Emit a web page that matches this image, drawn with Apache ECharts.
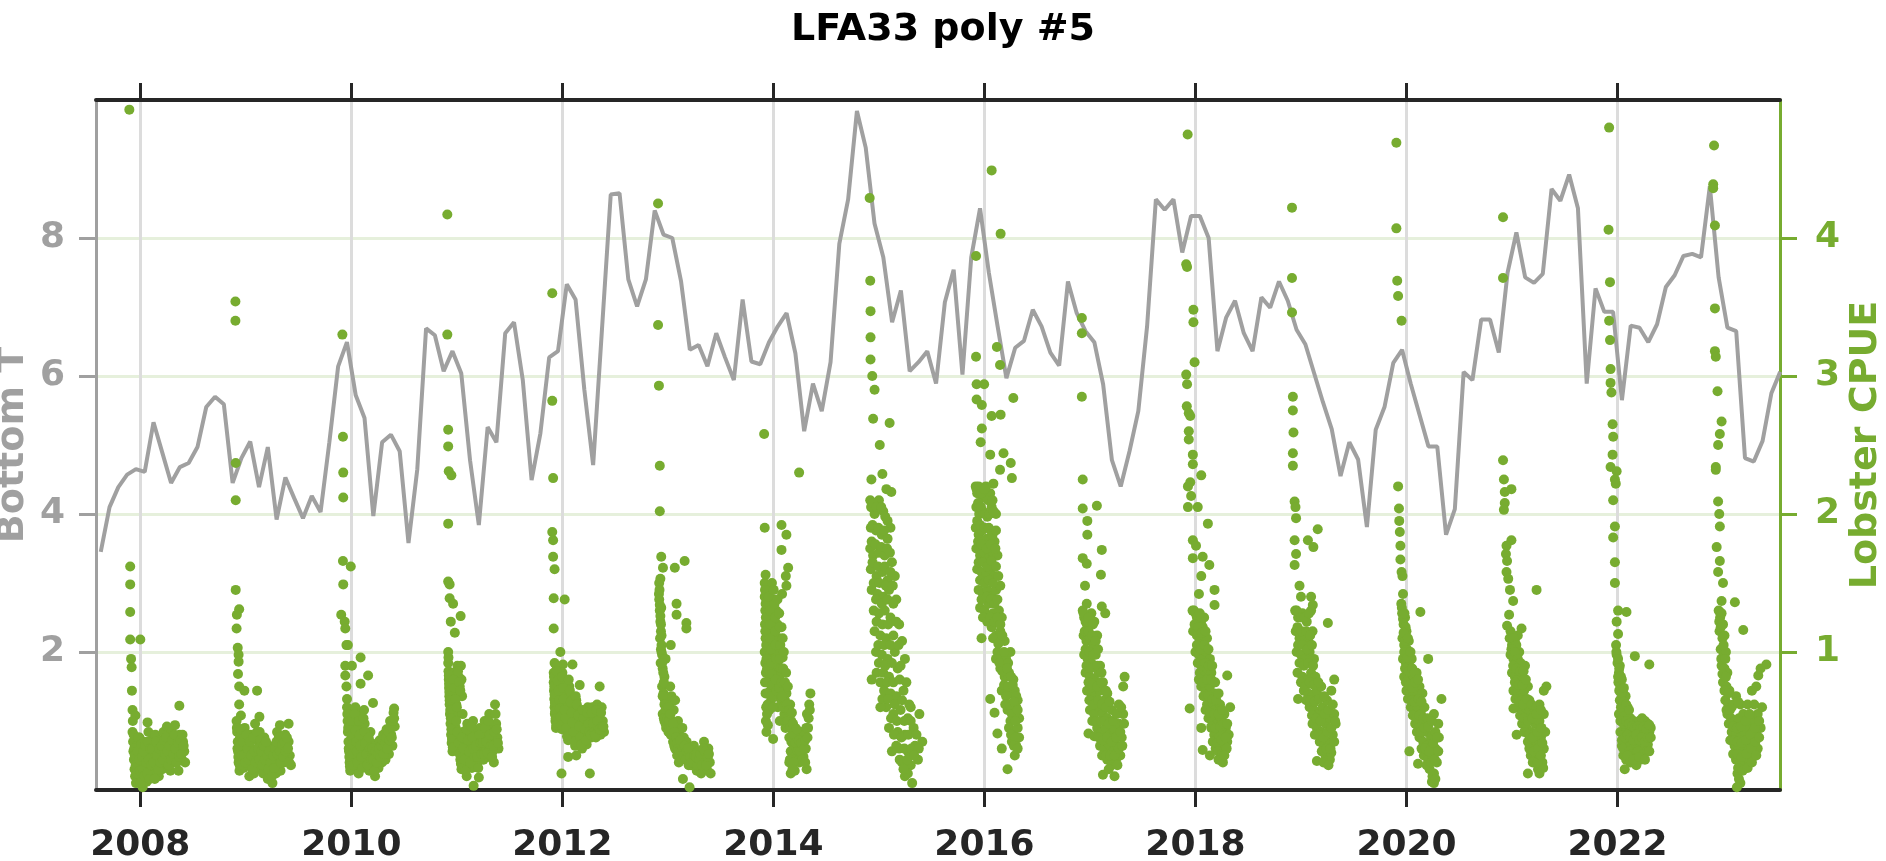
<!DOCTYPE html>
<html>
<head>
<meta charset="utf-8">
<title>LFA33 poly #5</title>
<script src="https://cdn.jsdelivr.net/npm/echarts@6/dist/echarts.min.js"></script>
<style>
  html, body { margin: 0; padding: 0; background: #ffffff; }
  #chart { width: 1886px; height: 861px; }
</style>
</head>
<body>
<div id="chart"></div>
<script>
// Monthly bottom temperature, first value is August 2007 (mid-month)
const firstMonth = 2007 + 7.5 / 12;
const bottomT = [
  3.45, 4.10, 4.39, 4.57, 4.65, 4.61, 5.33, 4.89, 4.45, 4.68, 4.74, 4.97,
  5.55, 5.70, 5.59, 4.45, 4.81, 5.05, 4.39, 4.97, 3.92, 4.53, 4.23, 3.94,
  4.26, 4.03, 5.04, 6.14, 6.49, 5.72, 5.39, 3.97, 5.04, 5.15, 4.91, 3.58,
  4.65, 6.69, 6.59, 6.07, 6.36, 6.04, 4.78, 3.84, 5.26, 5.04, 6.62, 6.78,
  5.94, 4.49, 5.17, 6.27, 6.36, 7.33, 7.11, 5.80, 4.71, 6.67, 8.63, 8.65,
  7.40, 7.01, 7.40, 8.40, 8.05, 8.00, 7.37, 6.38, 6.45, 6.14, 6.62, 6.27,
  5.94, 7.11, 6.21, 6.17, 6.49, 6.72, 6.91, 6.33, 5.20, 5.89, 5.49, 6.20,
  7.92, 8.56, 9.84, 9.31, 8.21, 7.72, 6.78, 7.24, 6.07, 6.20, 6.36, 5.89,
  7.07, 7.54, 6.02, 7.72, 8.43, 7.50, 6.72, 5.97, 6.41, 6.51, 6.96, 6.72,
  6.34, 6.15, 7.37, 6.91, 6.65, 6.49, 5.88, 4.78, 4.40, 4.91, 5.49, 6.72,
  8.56, 8.41, 8.56, 7.79, 8.32, 8.32, 8.00, 6.36, 6.85, 7.09, 6.62, 6.36,
  7.14, 6.99, 7.37, 7.09, 6.67, 6.46, 6.04, 5.62, 5.23, 4.55, 5.04, 4.79,
  3.81, 5.22, 5.55, 6.19, 6.38, 5.88, 5.43, 4.98, 4.98, 3.70, 4.07, 6.06,
  5.94, 6.82, 6.82, 6.34, 7.50, 8.08, 7.43, 7.35, 7.48, 8.71, 8.54, 8.92,
  8.43, 5.89, 7.27, 6.93, 6.93, 5.65, 6.73, 6.70, 6.49, 6.75, 7.29, 7.46,
  7.74, 7.77, 7.72, 8.75, 7.43, 6.70, 6.65, 4.81, 4.76, 5.06, 5.75, 6.06
];

// Lobster CPUE per fishing season: [days from 1 January of the season year, CPUE]
const cpue2008 = [[-38,4.93],[-35,1.62],[-35,1.49],[-35,1.29],[-35,1.09],[0,1.09],[-32,0.95],[-30,0.89],[-29,0.72],[-27,0.58],[-17,0.54],[25,0.49],[135,0.61],
  [-27,0.42],[-25,0.35],[-24,0.28],[-22,0.22],[-20,0.15],[-18,0.10],[-15,0.05],[-12,0.32],[-10,0.2],[-6,0.12],[-3,0.38],[0,0.28],[2,0.18],[5,0.08],[8,0.02],[12,0.35],[15,0.25],[18,0.15],[22,0.06],[28,0.42],[30,0.3],[33,0.2],[36,0.1],[40,0.36],[44,0.26],[48,0.14],[52,0.4],[56,0.3],[60,0.2],[64,0.1],[68,0.36],[72,0.25],[76,0.15],[80,0.42],[84,0.3],[88,0.2],[92,0.46],[96,0.36],[100,0.24],[104,0.14],[108,0.42],[112,0.3],[116,0.2],[120,0.47],[124,0.36],[128,0.25],[132,0.14],[136,0.4],[140,0.3],[144,0.22],[148,0.35],[152,0.28],[155,0.2],
  [-26,0.5],[-23,0.4],[-21,0.3],[-19,0.25],[-16,0.18],[-13,0.12],[-9,0.28],[-7,0.38],[-4,0.22],[-1,0.14],[1,0.05],[3,0.33],[6,0.24],[9,0.15],[11,0.28],[14,0.1],[17,0.32],[20,0.2],[24,0.12],[26,0.35],[29,0.22],[32,0.08],[35,0.3],[38,0.18],[42,0.3],[46,0.2],[50,0.08],[54,0.35],[58,0.25],[62,0.15],[66,0.3],[70,0.2],[74,0.32],[78,0.22],[82,0.36],[86,0.26],[90,0.38],[94,0.28],[98,0.18],[102,0.32],[106,0.22],[110,0.36],[114,0.26],[118,0.4],[122,0.3],[126,0.2],[130,0.34],[134,0.24],[138,0.36],[142,0.26],[146,0.4],[150,0.32]];
const cpue2009 = [[-36,3.54],[-36,3.40],[-35,2.37],[-35,2.10],[-35,1.45],[-23,1.31],[-31,1.27],[-32,1.17],[-28,1.03],[-25,0.98],[-25,0.93],[-27,0.84],[-23,0.75],[-5,0.72],[39,0.72],[-23,0.62],[-17,0.54],[47,0.53],[118,0.47],[148,0.48],
  [-32,0.5],[-30,0.42],[-28,0.35],[-27,0.28],[-25,0.2],[-22,0.14],[-20,0.38],[-16,0.3],[-12,0.22],[-8,0.16],[-4,0.45],[0,0.35],[4,0.26],[8,0.18],[12,0.1],[16,0.4],[20,0.3],[24,0.2],[28,0.12],[32,0.48],[36,0.36],[40,0.26],[44,0.16],[48,0.42],[52,0.32],[56,0.22],[60,0.12],[64,0.38],[68,0.28],[72,0.18],[76,0.08],[80,0.32],[84,0.24],[88,0.14],[92,0.05],[96,0.3],[100,0.2],[104,0.12],[108,0.42],[112,0.32],[116,0.22],[120,0.14],[124,0.38],[128,0.28],[132,0.2],[136,0.4],[140,0.3],[144,0.22],[148,0.35],[152,0.25],[156,0.18],
  [-31,0.45],[-29,0.3],[-26,0.24],[-23,0.32],[-21,0.18],[-18,0.44],[-14,0.25],[-10,0.35],[-6,0.25],[-2,0.2],[2,0.4],[6,0.3],[10,0.22],[14,0.35],[18,0.25],[22,0.15],[26,0.38],[30,0.28],[34,0.2],[38,0.42],[42,0.3],[46,0.22],[50,0.36],[54,0.28],[58,0.18],[62,0.32],[66,0.22],[70,0.35],[74,0.25],[78,0.15],[82,0.28],[86,0.2],[90,0.1],[94,0.25],[98,0.16],[102,0.3],[106,0.35],[110,0.26],[114,0.38],[118,0.28],[122,0.2],[126,0.33],[130,0.24],[134,0.35],[138,0.28],[142,0.38],[146,0.3],[150,0.2]];
const cpue2010 = [[-31,3.30],[-29,2.56],[-28,2.30],[-28,2.12],[-29,1.66],[-2,1.62],[-28,1.49],[-35,1.27],[-23,1.22],[-21,1.17],[-17,1.05],[-12,1.05],[32,0.96],[-21,0.90],[2,0.90],[58,0.83],[-21,0.83],[32,0.77],[-17,0.75],[-15,0.66],[75,0.63],[148,0.59],
  [-15,0.6],[-13,0.5],[-12,0.42],[-10,0.35],[-8,0.28],[-6,0.2],[-4,0.14],[0,0.55],[2,0.45],[4,0.38],[6,0.3],[8,0.22],[10,0.15],[14,0.6],[16,0.48],[18,0.4],[20,0.32],[22,0.24],[25,0.12],[28,0.55],[30,0.45],[33,0.36],[36,0.28],[40,0.2],[44,0.58],[46,0.48],[50,0.38],[54,0.3],[58,0.22],[62,0.14],[66,0.42],[70,0.34],[74,0.26],[78,0.18],[82,0.1],[86,0.32],[90,0.24],[94,0.16],[98,0.36],[102,0.28],[106,0.2],[110,0.4],[114,0.3],[118,0.22],[122,0.44],[126,0.34],[130,0.26],[134,0.5],[138,0.4],[142,0.32],[146,0.56],[150,0.46],
  [-14,0.55],[-11,0.45],[-9,0.3],[-7,0.24],[-5,0.17],[-2,0.5],[1,0.4],[3,0.33],[5,0.26],[7,0.18],[12,0.55],[15,0.43],[17,0.35],[19,0.28],[21,0.2],[26,0.5],[29,0.4],[31,0.32],[35,0.24],[38,0.16],[42,0.52],[45,0.42],[48,0.34],[52,0.26],[56,0.18],[60,0.38],[64,0.3],[68,0.22],[72,0.3],[76,0.22],[80,0.14],[84,0.28],[88,0.2],[92,0.26],[96,0.3],[100,0.24],[104,0.32],[108,0.36],[112,0.26],[116,0.34],[120,0.38],[124,0.3],[128,0.42],[132,0.36],[136,0.46],[140,0.38],[144,0.5],[148,0.52]];
const cpue2011 = [[-33,4.17],[-33,3.30],[-30,2.61],[-30,2.49],[-28,2.31],[-19,2.28],[-30,1.93],[-30,1.51],[-25,1.49],[-25,1.39],[-13,1.35],[13,1.26],[-21,1.22],[-7,1.14],
  [-30,1.0],[-30,0.92],[-29,0.86],[-28,0.8],[-27,0.74],[-26,0.68],[-25,0.62],[-24,0.55],[-22,0.48],[-20,0.4],[-18,0.34],[-15,0.28],[-12,0.85],[-10,0.78],[-6,0.7],[-2,0.62],[0,0.55],[2,0.9],[6,0.82],[10,0.75],[14,0.9],[16,0.8],[18,0.68],[20,0.55],[-4,0.45],[4,0.38],[8,0.3],[12,0.22],[16,0.15],[20,0.42],[24,0.34],[28,0.26],[32,0.18],[34,0.1],[36,0.48],[40,0.4],[44,0.32],[48,0.24],[52,0.16],[56,0.5],[60,0.42],[64,0.35],[68,0.28],[72,0.2],[76,0.09],[80,0.45],[84,0.38],[88,0.3],[92,0.22],[96,0.5],[100,0.4],[104,0.3],[108,0.24],[112,0.55],[116,0.45],[120,0.36],[124,0.28],[128,0.2],[132,0.62],[136,0.48],[140,0.38],[144,0.3],[58,0.03],
  [-29,0.96],[-28,0.83],[-27,0.77],[-26,0.71],[-25,0.65],[-23,0.58],[-21,0.52],[-19,0.44],[-17,0.37],[-14,0.31],[-11,0.8],[-8,0.74],[-4,0.66],[0,0.6],[4,0.86],[8,0.78],[12,0.72],[-2,0.5],[2,0.42],[6,0.34],[10,0.26],[14,0.19],[18,0.38],[22,0.3],[26,0.22],[30,0.14],[34,0.44],[38,0.36],[42,0.28],[46,0.2],[50,0.46],[54,0.38],[58,0.3],[62,0.24],[66,0.32],[70,0.24],[74,0.16],[78,0.4],[82,0.34],[86,0.26],[90,0.34],[94,0.26],[98,0.45],[102,0.35],[106,0.27],[110,0.5],[114,0.4],[118,0.32],[122,0.24],[126,0.32],[130,0.42],[134,0.55],[138,0.44],[142,0.34]];
const cpue2012 = [[-35,3.60],[-35,2.82],[-32,2.26],[-35,1.87],[-32,1.81],[-32,1.69],[-27,1.60],[-30,1.39],[8,1.38],[-30,1.17],[-7,1.0],[-27,0.92],[2,0.91],[35,0.91],[60,0.76],[129,0.75],[-3,0.12],[95,0.12],[20,0.24],[48,0.25],
  [-30,0.85],[-30,0.78],[-29,0.72],[-28,0.66],[-27,0.6],[-26,0.55],[-24,0.5],[-22,0.45],[-20,0.9],[-18,0.82],[-15,0.75],[-12,0.68],[-10,0.62],[-8,0.56],[-5,0.5],[-2,0.44],[0,0.85],[3,0.78],[6,0.7],[9,0.62],[12,0.55],[15,0.48],[18,0.42],[20,0.36],[24,0.75],[27,0.68],[30,0.6],[33,0.52],[36,0.45],[40,0.38],[44,0.32],[48,0.65],[52,0.58],[56,0.5],[60,0.42],[64,0.35],[68,0.3],[72,0.55],[76,0.48],[80,0.4],[84,0.33],[88,0.6],[92,0.52],[96,0.45],[100,0.38],[104,0.6],[108,0.52],[112,0.44],[116,0.38],[120,0.62],[124,0.55],[128,0.48],[132,0.4],[136,0.6],[140,0.5],[144,0.42],
  [-29,0.82],[-28,0.75],[-27,0.69],[-26,0.63],[-25,0.57],[-23,0.52],[-21,0.47],[-19,0.86],[-16,0.79],[-13,0.72],[-11,0.65],[-9,0.59],[-6,0.53],[-3,0.47],[-1,0.82],[2,0.74],[5,0.66],[8,0.58],[11,0.52],[14,0.45],[16,0.39],[22,0.8],[26,0.72],[29,0.64],[32,0.56],[35,0.49],[38,0.42],[42,0.35],[46,0.68],[50,0.62],[54,0.54],[58,0.46],[62,0.38],[66,0.33],[70,0.58],[74,0.52],[78,0.44],[82,0.36],[86,0.56],[90,0.48],[94,0.42],[98,0.4],[102,0.56],[106,0.48],[110,0.42],[114,0.4],[118,0.58],[122,0.5],[126,0.44],[130,0.44],[134,0.56],[138,0.46],[142,0.46]];
const cpue2013 = [[-34,4.25],[-34,3.37],[-31,2.93],[-28,2.35],[-28,2.02],[-23,1.69],[-17,1.61],[24,1.61],[58,1.66],[-26,1.53],[-31,1.42],[-23,1.32],[30,1.27],[64,1.21],[64,1.17],
  [-30,1.5],[-30,1.38],[-28,1.3],[-26,1.22],[-24,1.15],[-27,1.1],[-22,1.05],[-20,0.98],[-25,0.92],[-18,0.88],[-12,0.82],[-20,0.75],[-15,0.7],[-10,0.65],[-5,0.6],[-18,0.55],[-12,0.5],[0,0.55],[5,0.62],[8,0.75],[12,0.68],[-6,0.45],[2,0.42],[10,0.4],[15,0.5],[20,0.58],[25,0.65],[18,0.35],[25,0.3],[30,0.45],[35,0.5],[40,0.4],[32,0.25],[45,0.32],[50,0.45],[55,0.38],[38,0.2],[60,0.28],[65,0.35],[70,0.22],[75,0.3],[80,0.18],[85,0.25],[90,0.32],[95,0.2],[100,0.14],[105,0.28],[110,0.2],[115,0.12],[120,0.25],[125,0.35],[130,0.22],[135,0.15],[140,0.3],[145,0.2],[148,0.12],[-22,1.0],[-8,0.95],[10,1.05],[30,1.35],[52,0.08],[75,0.02],
  [-29,1.45],[-28,1.34],[-26,1.26],[-24,1.2],[-22,1.12],[-24,1.02],[-20,0.92],[-16,0.85],[-14,0.78],[-18,0.68],[-12,0.62],[-8,0.58],[-14,0.52],[-8,0.48],[-3,0.52],[2,0.6],[4,0.5],[6,0.45],[9,0.55],[12,0.45],[15,0.4],[18,0.48],[22,0.42],[22,0.32],[28,0.38],[32,0.34],[36,0.3],[40,0.28],[42,0.36],[48,0.28],[52,0.3],[56,0.25],[58,0.32],[62,0.22],[66,0.28],[70,0.3],[72,0.18],[78,0.24],[82,0.2],[88,0.2],[92,0.25],[98,0.24],[102,0.18],[108,0.22],[112,0.26],[118,0.18],[122,0.3],[128,0.28],[132,0.18],[138,0.24],[142,0.26]];
const cpue2014 = [[-32,2.58],[89,2.30],[-30,1.90],[28,1.92],[45,1.85],[28,1.74],[-27,1.56],[43,1.55],[51,1.61],[45,1.48],
  [-30,1.5],[-30,1.4],[-28,1.3],[-29,1.2],[-27,1.1],[-30,1.0],[-28,0.92],[-26,0.85],[-29,0.78],[-27,0.7],[-25,0.6],[-26,0.5],[-24,0.42],[-20,1.45],[-18,1.35],[-15,1.25],[-20,1.15],[-16,1.05],[-12,0.98],[-18,0.9],[-14,0.8],[-10,0.72],[-8,0.65],[-14,0.58],[-5,1.5],[-2,1.38],[0,1.25],[3,1.12],[-4,1.02],[2,0.95],[6,0.88],[0,0.78],[5,0.7],[10,1.3],[14,1.2],[18,1.1],[12,1.0],[16,0.9],[20,0.82],[15,0.6],[22,0.5],[30,1.42],[28,1.18],[32,0.96],[35,0.75],[25,0.66],[40,0.65],[38,0.55],[45,0.7],[48,0.58],[42,0.45],[52,0.48],[58,0.62],[55,0.38],[62,0.5],[66,0.4],[60,0.28],[70,0.33],[75,0.45],[78,0.25],[82,0.38],[86,0.3],[90,0.2],[95,0.42],[100,0.32],[104,0.24],[108,0.4],[112,0.3],[116,0.55],[120,0.45],[124,0.62],[128,0.7],[115,0.15],[55,0.2],[60,0.12],[-1,0.37],[57,0.22],[74,0.14],
  [-29,1.45],[-27,1.35],[-26,1.25],[-28,1.15],[-25,1.05],[-24,0.95],[-22,0.88],[-23,0.78],[-21,0.7],[-20,0.62],[-22,0.55],[-19,0.47],[-16,1.4],[-12,1.3],[-10,1.2],[-12,1.1],[-8,1.02],[-6,0.92],[-5,0.84],[-3,0.76],[-6,0.68],[-2,0.6],[1,1.45],[4,1.35],[6,1.25],[7,1.15],[8,1.05],[10,0.95],[8,0.8],[11,0.72],[14,1.38],[20,1.28],[22,1.18],[24,1.05],[22,0.95],[26,0.88],[20,0.74],[28,0.78],[32,1.1],[36,1.0],[34,0.88],[30,0.68],[34,0.6],[44,0.85],[40,0.78],[50,0.75],[46,0.62],[54,0.58],[50,0.5],[58,0.45],[64,0.56],[68,0.48],[62,0.35],[72,0.4],[76,0.34],[80,0.44],[84,0.28],[88,0.36],[92,0.28],[96,0.34],[100,0.22],[106,0.3],[110,0.36],[114,0.45],[118,0.38],[122,0.52],[126,0.58],[110,0.2],[70,0.2],[66,0.15]];
const cpue2015 = [[-32,4.29],[-30,3.69],[-29,3.47],[-29,3.28],[-29,3.12],[-23,3.0],[-15,2.90],[-20,2.69],[37,2.66],[3,2.50],[-26,2.25],[12,2.29],[26,2.18],[43,2.16],
  [-30,2.1],[-25,2.05],[-15,2.0],[0,2.1],[15,2.02],[30,1.95],[-28,1.9],[-10,1.88],[10,1.85],[40,1.9],[-30,1.75],[-20,1.7],[0,1.72],[20,1.7],[45,1.65],[-28,1.6],[-8,1.55],[12,1.58],[30,1.52],[55,1.55],[-25,1.45],[-5,1.42],[15,1.4],[35,1.45],[60,1.38],[-18,1.3],[0,1.28],[20,1.3],[40,1.25],[70,1.2],[-15,1.15],[5,1.12],[25,1.1],[50,1.12],[80,1.08],[-10,1.0],[10,0.98],[30,0.95],[55,1.0],[90,0.95],[-8,0.85],[15,0.85],[35,0.82],[65,0.88],[18,0.72],[40,0.7],[60,0.68],[85,0.72],[110,0.6],[25,0.6],[50,0.55],[75,0.58],[100,0.52],[35,0.45],[65,0.42],[90,0.4],[120,0.45],[140,0.55],[70,0.3],[100,0.28],[125,0.32],[150,0.35],[80,0.2],[110,0.18],[135,0.22],[90,0.1],[115,0.05],[-25,0.8],[5,0.6],[45,0.28],
  [-27,2.05],[-20,2.08],[-8,2.05],[8,2.05],[22,1.98],[-22,1.92],[-2,1.9],[18,1.88],[30,1.82],[-25,1.8],[-12,1.78],[8,1.76],[28,1.75],[38,1.72],[-22,1.65],[-2,1.62],[20,1.62],[40,1.58],[-18,1.5],[2,1.5],[24,1.48],[48,1.48],[-10,1.38],[10,1.35],[30,1.38],[50,1.35],[-8,1.22],[12,1.2],[32,1.2],[60,1.22],[-2,1.05],[18,1.05],[40,1.05],[68,1.05],[0,0.92],[22,0.9],[45,0.92],[75,0.9],[5,0.78],[28,0.78],[50,0.78],[72,0.8],[95,0.78],[12,0.66],[32,0.66],[55,0.62],[80,0.65],[105,0.62],[42,0.52],[62,0.5],[88,0.5],[110,0.5],[52,0.4],[78,0.38],[102,0.4],[130,0.4],[60,0.32],[88,0.3],[112,0.3],[138,0.3],[72,0.22],[98,0.22],[122,0.25],[100,0.12],[85,0.15]];
const cpue2016 = [[25,4.49],[56,4.03],[-29,3.87],[43,3.21],[54,3.08],[-29,3.14],[100,2.84],[-27,2.94],[-1,2.94],[-27,2.83],[-9,2.79],[25,2.71],[56,2.72],[-9,2.62],[-13,2.52],[20,2.43],[66,2.44],[91,2.37],[54,2.32],[95,2.26],[31,2.22],
  [-30,2.2],[-25,2.15],[-15,2.18],[-5,2.12],[5,2.2],[20,2.15],[-28,2.05],[-18,2.0],[-5,2.02],[10,1.98],[25,2.05],[40,2.0],[-30,1.9],[-20,1.85],[-8,1.88],[8,1.82],[22,1.88],[35,1.8],[-28,1.75],[-15,1.7],[0,1.72],[15,1.68],[30,1.72],[45,1.7],[-25,1.6],[-10,1.58],[5,1.55],[20,1.6],[35,1.55],[-20,1.45],[-5,1.42],[10,1.45],[25,1.4],[40,1.45],[55,1.48],[-15,1.32],[0,1.3],[15,1.35],[30,1.28],[50,1.3],[60,1.25],[-10,1.1],[25,1.18],[40,1.12],[55,1.15],[70,1.08],[45,1.0],[60,0.98],[75,0.95],[90,1.0],[55,0.88],[70,0.82],[85,0.85],[100,0.8],[60,0.72],[75,0.68],[90,0.7],[105,0.72],[115,0.65],[80,0.58],[95,0.55],[110,0.6],[120,0.52],[85,0.45],[100,0.42],[115,0.45],[120,0.38],[95,0.35],[110,0.32],[20,0.66],[35,0.56],[45,0.41],[60,0.3],[80,0.15],[105,0.25],
  [-27,2.18],[-20,2.2],[-10,2.15],[0,2.18],[12,2.1],[28,2.1],[-22,2.08],[-12,2.05],[2,2.0],[18,2.0],[32,2.02],[-25,1.95],[-15,1.92],[0,1.9],[15,1.9],[28,1.85],[40,1.88],[-22,1.8],[-10,1.78],[8,1.75],[22,1.78],[38,1.75],[-20,1.65],[-5,1.65],[10,1.62],[25,1.66],[40,1.62],[-15,1.52],[0,1.5],[15,1.52],[30,1.5],[48,1.55],[-10,1.38],[8,1.4],[22,1.38],[35,1.35],[45,1.38],[-5,1.25],[10,1.22],[20,1.25],[35,1.22],[45,1.25],[55,1.2],[30,1.1],[48,1.06],[62,1.12],[40,0.95],[52,0.92],[68,1.0],[82,0.92],[62,0.86],[78,0.88],[92,0.82],[68,0.76],[82,0.75],[98,0.76],[110,0.68],[72,0.62],[88,0.62],[102,0.64],[115,0.58],[90,0.5],[108,0.5],[92,0.4],[108,0.38],[102,0.32],[115,0.3]];
const cpue2017 = [[-28,3.42],[-28,3.31],[-28,2.85],[-25,2.25],[24,2.06],[-25,2.04],[-9,1.95],[-9,1.85],[41,1.74],[-25,1.68],[-11,1.64],[38,1.56],[-17,1.48],[-11,1.35],[41,1.33],[53,1.28],
  [-25,1.3],[-20,1.25],[-10,1.2],[5,1.28],[15,1.22],[-22,1.12],[-12,1.08],[0,1.1],[12,1.05],[25,1.12],[-20,0.98],[-8,0.95],[5,0.92],[20,0.98],[35,0.9],[-15,0.85],[0,0.82],[15,0.8],[30,0.85],[45,0.78],[-10,0.72],[5,0.7],[20,0.68],[35,0.72],[50,0.65],[60,0.7],[0,0.58],[15,0.55],[30,0.6],[45,0.55],[60,0.52],[75,0.58],[100,0.62],[115,0.75],[120,0.82],[25,0.45],[40,0.42],[55,0.45],[70,0.4],[85,0.44],[100,0.48],[115,0.55],[35,0.32],[50,0.3],[65,0.33],[80,0.28],[95,0.32],[110,0.38],[60,0.22],[75,0.18],[90,0.22],[105,0.25],[45,0.11],[85,0.1],[-5,0.41],[15,0.39],
  [-22,1.28],[-15,1.22],[-5,1.25],[10,1.2],[-18,1.15],[-5,1.15],[8,1.12],[20,1.08],[-15,1.02],[-2,1.0],[12,0.98],[28,1.02],[-12,0.9],[2,0.88],[25,0.9],[40,0.85],[-5,0.78],[10,0.76],[25,0.75],[40,0.78],[55,0.72],[-2,0.65],[12,0.62],[28,0.65],[42,0.62],[55,0.6],[68,0.64],[8,0.5],[22,0.5],[38,0.5],[52,0.5],[65,0.48],[80,0.5],[92,0.55],[108,0.6],[30,0.38],[45,0.36],[60,0.38],[75,0.35],[90,0.38],[105,0.42],[118,0.48],[42,0.25],[55,0.25],[70,0.25],[85,0.25],[100,0.3],[112,0.32],[65,0.15],[95,0.18]];
const cpue2018 = [[-27,4.75],[-32,3.81],[-29,3.79],[-7,3.48],[-7,3.39],[-3,3.10],[-32,3.01],[-29,2.94],[-30,2.78],[-23,2.73],[-18,2.71],[-23,2.60],[-23,2.54],[-9,2.43],[-9,2.36],[20,2.28],[-18,2.23],[-26,2.20],[-15,2.13],[-26,2.05],[8,2.05],[43,1.93],[-9,1.81],[2,1.77],[-9,1.68],[25,1.69],[48,1.63],[20,1.55],[66,1.45],[12,1.42],[66,1.34],
  [-10,1.3],[0,1.28],[10,1.25],[20,1.2],[30,1.25],[-8,1.15],[5,1.12],[15,1.08],[28,1.12],[40,1.1],[0,1.0],[12,0.98],[25,0.95],[38,1.0],[50,0.95],[15,0.85],[28,0.82],[40,0.88],[55,0.85],[20,0.75],[35,0.72],[50,0.75],[65,0.7],[40,0.62],[55,0.6],[70,0.58],[85,0.62],[100,0.55],[45,0.52],[60,0.5],[75,0.48],[90,0.52],[105,0.45],[65,0.4],[80,0.38],[95,0.42],[110,0.35],[70,0.3],[85,0.28],[100,0.32],[115,0.4],[80,0.22],[95,0.2],[-20,0.59],[20,0.45],[55,0.45],[25,0.29],[110,0.83],[120,0.6],[50,0.25],
  [-5,1.3],[5,1.25],[15,1.28],[25,1.18],[-3,1.2],[10,1.18],[22,1.14],[35,1.15],[5,1.05],[18,1.02],[32,1.05],[45,1.02],[8,0.92],[20,0.9],[34,0.92],[46,0.9],[58,0.9],[12,0.8],[25,0.78],[40,0.8],[55,0.8],[68,0.78],[28,0.68],[45,0.68],[58,0.66],[72,0.65],[80,0.7],[35,0.58],[50,0.56],[65,0.55],[80,0.55],[92,0.58],[55,0.46],[70,0.45],[85,0.46],[98,0.48],[110,0.48],[60,0.35],[75,0.34],[90,0.36],[105,0.38],[78,0.28],[92,0.26],[108,0.3],[88,0.22],[100,0.25]];
const cpue2019 = [[-31,4.22],[-31,3.71],[-31,3.46],[-28,2.85],[-28,2.75],[-26,2.59],[-28,2.44],[-28,2.35],[-22,2.09],[-19,2.05],[-17,1.97],[58,1.89],[24,1.81],[43,1.76],[-22,1.81],[-17,1.71],[-22,1.63],[-5,1.48],[0,1.40],[35,1.40],[41,1.34],[93,1.21],
  [-20,1.3],[-10,1.25],[5,1.28],[20,1.22],[35,1.3],[-18,1.15],[-5,1.1],[10,1.12],[25,1.08],[40,1.15],[-15,1.0],[0,0.98],[15,0.95],[30,1.0],[45,0.95],[-12,0.85],[5,0.82],[20,0.8],[35,0.85],[50,0.82],[10,0.72],[25,0.7],[40,0.68],[55,0.72],[70,0.75],[30,0.6],[45,0.58],[60,0.55],[75,0.6],[90,0.65],[105,0.72],[40,0.48],[55,0.45],[70,0.42],[85,0.48],[100,0.52],[115,0.55],[65,0.35],[80,0.32],[95,0.35],[110,0.4],[120,0.48],[85,0.25],[100,0.22],[-10,0.66],[115,0.8],[55,0.21],[105,0.27],
  [-15,1.3],[0,1.25],[12,1.25],[28,1.28],[-12,1.18],[2,1.15],[18,1.15],[32,1.12],[-10,1.05],[5,1.05],[22,1.02],[38,1.05],[-5,0.92],[10,0.9],[25,0.92],[42,0.9],[0,0.78],[15,0.75],[30,0.78],[45,0.76],[60,0.78],[18,0.65],[32,0.65],[48,0.64],[62,0.66],[80,0.68],[38,0.54],[52,0.52],[68,0.5],[82,0.55],[95,0.58],[110,0.62],[48,0.4],[62,0.4],[78,0.38],[92,0.42],[105,0.45],[118,0.5],[72,0.28],[88,0.3],[102,0.3],[115,0.35],[78,0.2],[95,0.18]];
const cpue2020 = [[-35,4.69],[-35,4.07],[-32,3.69],[-29,3.58],[-17,3.40],[-29,2.20],[-26,2.04],[-25,1.95],[-23,1.87],[-21,1.77],[-21,1.67],[-17,1.58],[-14,1.55],[-12,1.42],[48,1.29],
  [-18,1.35],[-15,1.28],[-10,1.2],[-5,1.25],[0,1.15],[-14,1.1],[-8,1.05],[2,1.02],[8,1.08],[-12,0.95],[-2,0.92],[10,0.9],[18,0.95],[-8,0.82],[5,0.8],[15,0.78],[25,0.82],[35,0.85],[0,0.72],[12,0.7],[22,0.68],[32,0.72],[45,0.75],[55,0.7],[15,0.6],[25,0.58],[38,0.6],[50,0.55],[62,0.6],[30,0.48],[42,0.45],[55,0.48],[68,0.42],[80,0.5],[95,0.55],[45,0.38],[58,0.35],[72,0.32],[85,0.38],[100,0.42],[110,0.48],[60,0.25],[75,0.22],[88,0.25],[100,0.3],[112,0.38],[80,0.15],[95,0.12],[105,0.2],[95,0.05],[10,0.28],[40,0.19],[88,0.06],[121,0.66],[75,0.95],
  [-16,1.32],[-12,1.24],[-7,1.28],[-3,1.18],[-10,1.14],[-4,1.08],[5,1.1],[-8,1.0],[4,0.96],[14,1.0],[-5,0.88],[8,0.86],[20,0.88],[28,0.85],[-2,0.78],[10,0.76],[20,0.74],[30,0.78],[40,0.8],[5,0.66],[18,0.65],[28,0.64],[42,0.66],[52,0.64],[22,0.54],[35,0.52],[45,0.54],[58,0.52],[72,0.52],[36,0.42],[50,0.42],[62,0.45],[75,0.46],[88,0.5],[52,0.3],[65,0.3],[78,0.28],[92,0.34],[106,0.38],[70,0.18],[85,0.2],[98,0.22],[110,0.28],[90,0.1],[100,0.08]];
const cpue2021 = [[-31,4.15],[-31,3.71],[-31,2.39],[-28,2.25],[-2,2.18],[-25,2.16],[-25,2.08],[-28,2.03],[-2,1.81],[-19,1.77],[-21,1.71],[-17,1.66],[-19,1.58],[-13,1.53],[-7,1.45],[85,1.45],[4,1.37],[-10,1.27],[33,1.17],[-17,1.19],
  [-8,1.1],[0,1.05],[10,1.08],[20,1.12],[-5,0.98],[5,0.95],[15,0.92],[25,1.0],[0,0.85],[10,0.82],[22,0.8],[35,0.85],[45,0.9],[5,0.72],[18,0.7],[30,0.68],[42,0.72],[55,0.75],[60,0.65],[20,0.6],[35,0.58],[48,0.55],[62,0.58],[75,0.6],[95,0.62],[110,0.72],[35,0.48],[50,0.45],[65,0.42],[80,0.48],[95,0.5],[110,0.55],[55,0.35],[70,0.32],[85,0.35],[100,0.38],[115,0.42],[65,0.25],[80,0.22],[95,0.25],[110,0.3],[90,0.15],[105,0.2],[5,0.59],[16,0.4],[55,0.12],[108,0.16],[119,0.75],
  [-5,1.15],[5,1.1],[15,1.05],[-2,1.02],[10,1.0],[20,0.95],[30,0.92],[4,0.9],[16,0.88],[28,0.86],[40,0.86],[10,0.78],[24,0.76],[36,0.76],[48,0.8],[12,0.66],[25,0.64],[38,0.62],[52,0.66],[68,0.62],[85,0.6],[28,0.54],[42,0.52],[55,0.5],[70,0.52],[85,0.55],[100,0.58],[42,0.42],[58,0.4],[72,0.38],[88,0.42],[102,0.45],[60,0.3],[75,0.28],[90,0.3],[105,0.34],[72,0.2],[88,0.2],[100,0.25],[95,0.12]];
const cpue2022 = [[-29,4.80],[-31,4.06],[-26,3.68],[-29,3.40],[-26,3.26],[-24,3.05],[-24,2.95],[-21,2.88],[-17,2.65],[-15,2.56],[-17,2.43],[-24,2.34],[-3,2.31],[-9,2.25],[-6,2.22],[-15,2.10],[-9,1.91],[-15,1.83],[-9,1.65],[-9,1.50],[2,1.30],[31,1.29],[-3,1.22],[2,1.13],[60,0.97],[110,0.91],
  [-5,1.05],[-3,0.98],[0,0.92],[5,0.85],[8,0.9],[3,0.78],[10,0.75],[15,0.8],[20,0.7],[8,0.65],[18,0.62],[28,0.68],[35,0.6],[5,0.55],[15,0.52],[25,0.55],[35,0.5],[45,0.52],[55,0.5],[65,0.48],[75,0.5],[85,0.52],[95,0.5],[105,0.48],[115,0.45],[10,0.42],[20,0.4],[30,0.45],[40,0.42],[50,0.4],[60,0.38],[70,0.42],[80,0.4],[90,0.38],[100,0.4],[110,0.42],[15,0.32],[25,0.3],[35,0.35],[45,0.32],[55,0.3],[65,0.33],[75,0.3],[85,0.32],[95,0.3],[105,0.33],[20,0.25],[30,0.22],[45,0.2],[60,0.25],[80,0.22],[25,0.15],[65,0.18],
  [-4,1.0],[2,0.95],[6,0.88],[2,0.82],[12,0.82],[6,0.72],[14,0.7],[22,0.74],[12,0.6],[22,0.64],[30,0.62],[40,0.58],[10,0.5],[20,0.48],[30,0.5],[40,0.48],[50,0.46],[60,0.45],[70,0.46],[80,0.45],[90,0.46],[100,0.44],[110,0.47],[15,0.36],[25,0.38],[35,0.4],[45,0.38],[55,0.36],[65,0.4],[75,0.36],[85,0.38],[95,0.35],[105,0.38],[115,0.38],[20,0.3],[40,0.28],[50,0.26],[70,0.28],[90,0.26],[110,0.28],[35,0.25],[55,0.22],[75,0.24],[95,0.22]];
const cpue2023 = [[-31,4.67],[-34,4.39],[-34,4.36],[-28,4.09],[-28,3.49],[-28,3.18],[-25,3.14],[-19,2.89],[-5,2.67],[-11,2.58],[-17,2.50],[-25,2.34],[-25,2.32],[-17,2.09],[-13,2.00],[-11,1.91],[-22,1.76],[-11,1.66],[-17,1.58],[0,1.50],[41,1.36],[70,1.16],[-5,1.37],[150,0.91],[122,0.83],
  [-15,1.3],[-10,1.25],[-5,1.28],[0,1.2],[-12,1.15],[-2,1.1],[5,1.12],[-8,1.02],[2,0.98],[10,1.0],[-5,0.9],[5,0.88],[15,0.85],[0,0.78],[12,0.75],[22,0.72],[8,0.65],[18,0.62],[30,0.6],[45,0.68],[60,0.62],[15,0.55],[28,0.52],[42,0.5],[55,0.52],[70,0.55],[85,0.62],[100,0.72],[115,0.75],[30,0.42],[45,0.4],[60,0.38],[75,0.42],[90,0.45],[105,0.5],[120,0.55],[40,0.32],[55,0.3],[70,0.28],[85,0.32],[100,0.35],[115,0.4],[130,0.45],[135,0.6],[45,0.22],[60,0.2],[75,0.18],[90,0.22],[105,0.25],[120,0.3],[50,0.12],[60,0.05],[55,0.08],[48,0.02],[130,0.88],
  [-13,1.22],[-8,1.18],[-3,1.2],[2,1.05],[-6,0.95],[8,0.95],[-2,0.84],[10,0.82],[5,0.72],[18,0.7],[12,0.58],[24,0.58],[36,0.62],[52,0.64],[20,0.48],[35,0.46],[48,0.45],[62,0.46],[78,0.5],[92,0.55],[108,0.62],[25,0.36],[38,0.36],[50,0.35],[65,0.34],[80,0.36],[95,0.4],[110,0.45],[125,0.5],[35,0.26],[50,0.26],[65,0.24],[82,0.26],[98,0.3],[112,0.35],[125,0.38],[52,0.16],[68,0.14],[85,0.16],[100,0.2],[115,0.25]];

const seasons = [
  [2008, cpue2008], [2009, cpue2009], [2010, cpue2010], [2011, cpue2011],
  [2012, cpue2012], [2013, cpue2013], [2014, cpue2014], [2015, cpue2015],
  [2016, cpue2016], [2017, cpue2017], [2018, cpue2018], [2019, cpue2019],
  [2020, cpue2020], [2021, cpue2021], [2022, cpue2022], [2023, cpue2023]
];

const yearTicks = [2008, 2010, 2012, 2014, 2016, 2018, 2020, 2022];
const tempTicks = [2, 4, 6, 8];
const cpueTicks = [1, 2, 3, 4];
const xRange = [2007.58, 2023.54];

const colorT = '#a0a0a0';
const colorCPUE = '#77ac30';
const frameColor = '#262626';
const fontFamily = 'DejaVu Sans';

const tempData = bottomT.map((v, i) => [firstMonth + i / 12, v]);
const cpueData = [];
seasons.forEach(([year, pts]) => {
  pts.forEach(([day, c]) => cpueData.push([year + day / 365, c]));
});

const chart = echarts.init(document.getElementById('chart'), null, { renderer: 'canvas' });

chart.setOption({
  animation: false,
  backgroundColor: '#ffffff',
  title: {
    text: 'LFA33 poly #5',
    left: 'center',
    top: 6,
    textStyle: { fontFamily, fontSize: 38, fontWeight: 'bold', color: '#000000' }
  },
  grid: { left: 96, right: 106, top: 100, bottom: 71, containLabel: false, outerBoundsMode: 'none' },
  xAxis: [
    {
      type: 'value',
      position: 'bottom',
      min: xRange[0],
      max: xRange[1],
      axisLine: { show: true, onZero: false, lineStyle: { color: frameColor, width: 4 } },
      axisTick: { show: true, customValues: yearTicks, length: 17, lineStyle: { color: frameColor, width: 3 } },
      axisLabel: {
        customValues: yearTicks,
        margin: 38,
        formatter: v => String(Math.round(v)),
        fontFamily, fontSize: 36, fontWeight: 'bold', color: frameColor
      },
      splitLine: { show: true, customValues: yearTicks, lineStyle: { color: '#dcdcdc', width: 3 } }
    },
    {
      type: 'value',
      position: 'top',
      min: xRange[0],
      max: xRange[1],
      axisLine: { show: true, onZero: false, lineStyle: { color: frameColor, width: 4 } },
      axisTick: { show: true, customValues: yearTicks, length: 17, lineStyle: { color: frameColor, width: 3 } },
      axisLabel: { show: false },
      splitLine: { show: false }
    }
  ],
  yAxis: [
    {
      type: 'value',
      position: 'left',
      min: 0,
      max: 10,
      interval: 2,
      name: 'Bottom T',
      nameLocation: 'middle',
      nameRotate: 90,
      nameGap: 64,
      nameMoveOverlap: false,
      nameTextStyle: { fontFamily, fontSize: 38, fontWeight: 'bold', color: colorT },
      axisLine: { show: true, onZero: false, lineStyle: { color: colorT, width: 3 } },
      axisTick: { show: true, customValues: tempTicks, length: 17, lineStyle: { color: colorT, width: 3 } },
      axisLabel: { customValues: tempTicks, margin: 31, fontFamily, fontSize: 36, fontWeight: 'bold', color: colorT },
      splitLine: { show: true, lineStyle: { color: '#e6f0dc', width: 3 } }
    },
    {
      type: 'value',
      position: 'right',
      min: 0,
      max: 5,
      interval: 1,
      name: 'Lobster CPUE',
      nameLocation: 'middle',
      nameRotate: 90,
      nameGap: 67,
      nameMoveOverlap: false,
      nameTextStyle: { fontFamily, fontSize: 38, fontWeight: 'bold', color: colorCPUE },
      axisLine: { show: true, onZero: false, lineStyle: { color: colorCPUE, width: 3 } },
      axisTick: { show: true, customValues: cpueTicks, length: 17, lineStyle: { color: colorCPUE, width: 3 } },
      axisLabel: { customValues: cpueTicks, margin: 35, fontFamily, fontSize: 36, fontWeight: 'bold', color: colorCPUE },
      splitLine: { show: false }
    }
  ],
  series: [
    {
      name: 'Bottom T',
      type: 'line',
      xAxisIndex: 0,
      yAxisIndex: 0,
      data: tempData,
      showSymbol: false,
      lineStyle: { color: colorT, width: 4 },
      z: 2
    },
    {
      name: 'Lobster CPUE',
      type: 'scatter',
      xAxisIndex: 0,
      yAxisIndex: 1,
      data: cpueData,
      symbol: 'circle',
      symbolSize: 10,
      itemStyle: { color: colorCPUE, opacity: 1 },
      z: 3
    }
  ]
});
</script>
</body>
</html>
